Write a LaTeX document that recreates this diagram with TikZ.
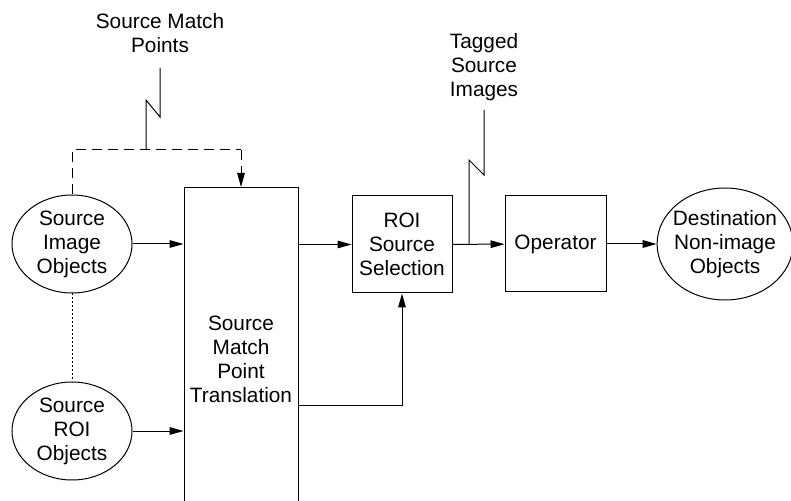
\documentclass[tikz,border=0pt]{standalone}
\usepackage{fontspec}
\setmainfont{Liberation Sans}
\usetikzlibrary{positioning,shapes.geometric,arrows.meta}

\begin{document}
\begin{tikzpicture}[x=0.5pt,y=-0.5pt,line width=0.5pt,
  font=\fontsize{10.4}{12}\selectfont,
  box/.style={draw, rectangle, align=center, inner sep=0pt},
  blob/.style={draw, ellipse, align=center, inner sep=0pt, minimum width=60pt, minimum height=49pt},
  arr/.style={-{Triangle[length=7pt,width=3.8pt]}}]
\useasboundingbox (0,0) rectangle (791,501);

% Boxes
\node[blob] (srcimg) at (72,244) {Source\\Image\\Objects};
\node[blob] (srcroi) at (72,431) {Source\\ROI\\Objects};
\node[box, minimum width=57pt, minimum height=171.5pt] (smpt) at (241,359) {Source\\Match\\Point\\Translation};
\node[box, minimum width=50pt, minimum height=48.5pt] (roisel) at (402,244.5) {ROI\\Source\\Selection};
\node[box, minimum width=50.5pt, minimum height=48pt] (oper) at (555.5,244) {Operator};
\node[blob, inner xsep=-2pt, minimum width=65pt, minimum height=56pt] (dest) at (725,244) {Destination\\Non-image\\Objects};

% Labels
\node[align=center] (smplabel) at (160,33) {Source Match\\Points};
\node[align=center] (taglabel) at (484,67) {Tagged\\Source\\Images};

% Arrows
\draw[arr] (srcimg) -- (srcimg -| smpt.west);
\draw[arr] (srcroi) -- (srcroi -| smpt.west);
\draw[dash pattern=on 0.8pt off 1.2pt] (srcimg) -- (srcroi);
\draw[arr] (roisel -| smpt.east) -- (roisel);
\draw[arr] ([yshift=-23.5pt]smpt.east) -| (roisel.south);
\draw[arr] (roisel) -- (oper);
\draw[arr] (oper) -- (dest);

% Source match points
\coordinate (smptop) at (160,68);
\coordinate (smpjoin) at (146,150);
\coordinate (dashend) at (241,150);
\draw[dash pattern=on 5pt off 3pt] (srcimg.north) |- (dashend);
\draw[arr, dash pattern=on 5pt off 3pt] (dashend) -- (dashend |- smpt.north);
\draw (smptop) -- ++(0,49) -- ++(-14,-17) -- (smpjoin);

% Tagged source images
\coordinate (tagjoin) at (469,244);
\coordinate (tagtop) at (484,110);
\draw (tagjoin) -- ++(0,-84) -- ++(15,15) -- (tagtop);
\end{tikzpicture}
\end{document}
